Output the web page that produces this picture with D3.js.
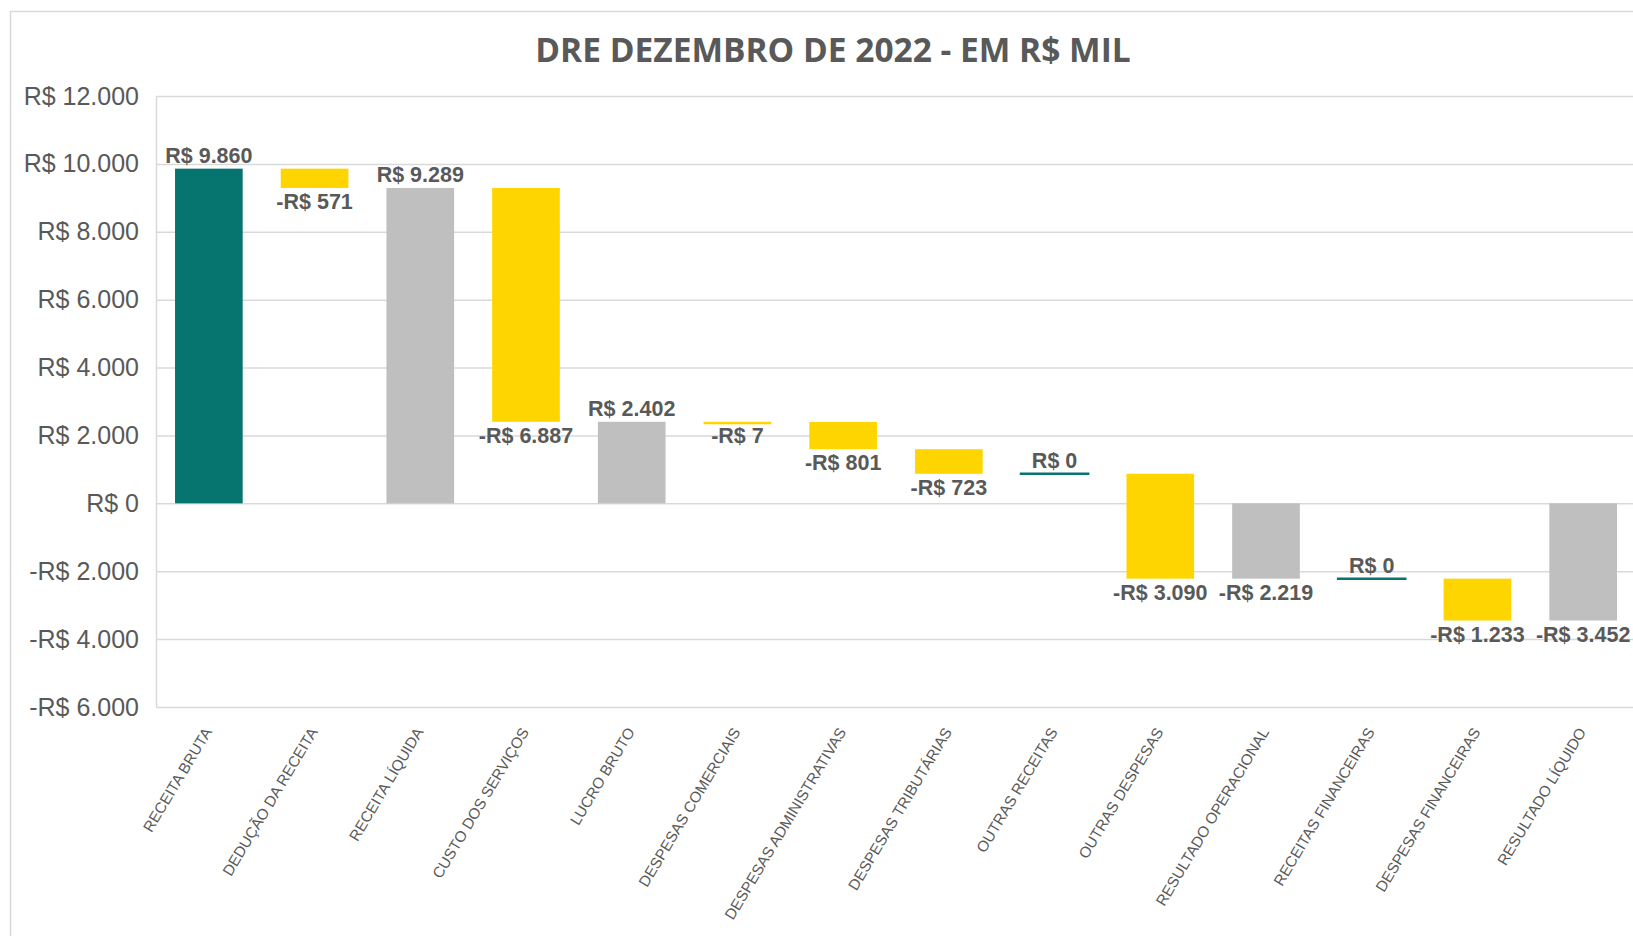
<!DOCTYPE html>
<html>
<head>
<meta charset="utf-8">
<script src="https://cdnjs.cloudflare.com/ajax/libs/d3/7.8.5/d3.min.js"></script>
<style>
  html, body { margin: 0; padding: 0; background: #fff; overflow: hidden; }
  svg { display: block; }
</style>
</head>
<body>
<script>
"use strict";

// DRE values, R$ mil
const categories = [
  "RECEITA BRUTA", "DEDUÇÃO DA RECEITA", "RECEITA LÍQUIDA", "CUSTO DOS SERVIÇOS",
  "LUCRO BRUTO", "DESPESAS COMERCIAIS", "DESPESAS ADMINISTRATIVAS", "DESPESAS TRIBUTÁRIAS",
  "OUTRAS RECEITAS", "OUTRAS DESPESAS", "RESULTADO OPERACIONAL", "RECEITAS FINANCEIRAS",
  "DESPESAS FINANCEIRAS", "RESULTADO LÍQUIDO"
];
const values = [9860, -571, 9289, -6887, 2402, -7, -801, -723, 0, -3090, -2219, 0, -1233, -3452];
const totals = [false, false, true, false, true, false, false, false, false, false, true, false, false, true];
const yTicks = [-6000, -4000, -2000, 0, 2000, 4000, 6000, 8000, 10000, 12000];
const title = "DRE DEZEMBRO DE 2022 - EM R$ MIL";

const colors = { up: "#07756F", down: "#FFD500", total: "#BFBFBF" };
const textColor = "#595959";
const gridColor = "#D9D9D9";

const locale = d3.formatLocale({ decimal: ",", thousands: ".", grouping: [3], currency: ["R$ ", ""] });
const num = locale.format(",.0f");
const money = v => (v < 0 ? "-" : "") + "R$ " + num(Math.abs(v));

// running totals for the waterfall
let running = 0;
const steps = categories.map((c, i) => {
  let start, end;
  if (totals[i]) {
    start = 0;
    end = values[i];
  } else {
    start = running;
    end = running + values[i];
  }
  running = end;
  const kind = totals[i] ? "total" : (values[i] >= 0 ? "up" : "down");
  return { cat: c, value: values[i], start, end, kind };
});

const W = 1633, H = 936;
let svg = d3.select("body").append("svg").attr("width", W).attr("height", H);

// chart frame
svg.append("rect")
  .attr("x", 10.5).attr("y", 11.5)
  .attr("width", W + 20).attr("height", H + 20)
  .attr("fill", "#fff")
  .attr("stroke", gridColor)
  .attr("stroke-width", 1.5);

svg.append("text")
  .attr("x", 833).attr("y", 62)
  .attr("text-anchor", "middle")
  .attr("font-family", "'Open Sans', sans-serif")
  .attr("font-weight", "bold")
  .attr("font-size", 33.5)
  .attr("fill", textColor)
  .text(title);

const x = d3.scaleBand()
  .domain(categories)
  .range([156, 1636])
  .paddingInner(0.36)
  .paddingOuter(0.18);

const y = d3.scaleLinear().domain([-6000, 12000]).range([707, 96]);

const yAxis = svg.append("g")
  .attr("transform", "translate(156,0)")
  .call(d3.axisLeft(y)
    .tickValues(yTicks)
    .tickFormat(money)
    .tickSizeInner(-1480)
    .tickSizeOuter(0)
    .tickPadding(17));

yAxis.select(".domain").attr("stroke", gridColor).attr("stroke-width", 1.5);
yAxis.selectAll(".tick line").attr("stroke", gridColor).attr("stroke-width", 1.5);
yAxis.selectAll(".tick text")
  .attr("font-family", "'Liberation Sans', Arial, sans-serif")
  .attr("font-size", 25)
  .attr("fill", textColor);

// bars
let bars = svg.append("g");
bars.selectAll("rect")
  .data(steps.filter(d => d.value !== 0))
  .enter()
  .append("rect")
  .attr("x", d => x(d.cat))
  .attr("width", x.bandwidth())
  .attr("y", d => y(Math.max(d.start, d.end)))
  .attr("height", d => Math.max(Math.abs(y(d.start) - y(d.end)), 2.5))
  .attr("fill", d => colors[d.kind]);

// zero-value steps shown as a thin line
bars.selectAll("line")
  .data(steps.filter(d => d.value === 0))
  .enter()
  .append("line")
  .attr("x1", d => x(d.cat) - 1)
  .attr("x2", d => x(d.cat) + x.bandwidth() + 1)
  .attr("y1", d => y(d.end))
  .attr("y2", d => y(d.end))
  .attr("stroke", colors.up)
  .attr("stroke-width", 2.5);

// data labels
svg.append("g")
  .selectAll("text")
  .data(steps)
  .enter()
  .append("text")
  .attr("x", d => x(d.cat) + x.bandwidth() / 2)
  .attr("y", d => d.value >= 0
    ? y(Math.max(d.start, d.end)) - 6
    : y(Math.min(d.start, d.end)) + 21)
  .attr("text-anchor", "middle")
  .attr("font-family", "'Liberation Sans', Arial, sans-serif")
  .attr("font-weight", "bold")
  .attr("font-size", 21.5)
  .attr("fill", textColor)
  .text(d => money(d.value));

// category labels
svg.append("g")
  .selectAll("text")
  .data(categories)
  .enter()
  .append("text")
  .attr("transform", d => `translate(${x(d) + x.bandwidth() / 2 - 1},729) rotate(-59)`)
  .attr("dy", "0.35em")
  .attr("text-anchor", "end")
  .attr("font-family", "'Liberation Sans', Arial, sans-serif")
  .attr("font-size", 15.2)
  .attr("fill", textColor)
  .text(d => d);
</script>
</body>
</html>
